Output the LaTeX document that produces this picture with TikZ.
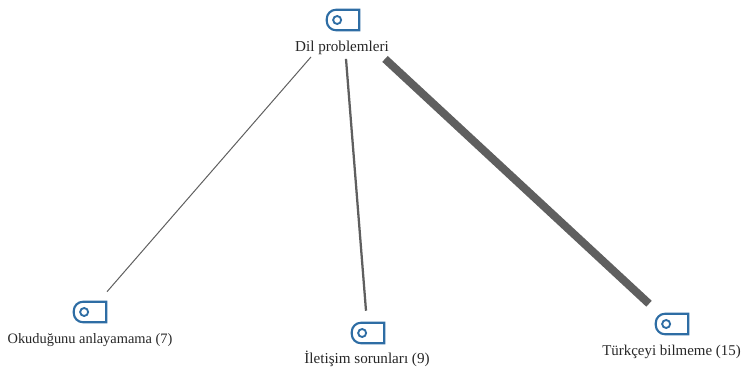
\documentclass[tikz,border=0pt]{standalone}
\usepackage{fontspec}
\setmainfont{Liberation Serif}
\definecolor{iconblue}{HTML}{2E6DA4}
\definecolor{linkgray}{HTML}{5F5F5F}
\tikzset{
  iconbox/.style={minimum width=24pt, minimum height=15pt, inner sep=0pt},
  iconline/.style={draw=iconblue, line width=1.6pt},
  codelabel/.style={font=\fontsize{11.35pt}{13pt}\selectfont, text=black!85, inner sep=0pt, text height=7.5pt, text depth=2.5pt},
  link/.style={draw=linkgray}
}
\newcommand{\tagicon}[2]{%
  \node[iconbox] (#1) at (#2) {};
  \draw[iconline] (#1.north east) -- (#1.south east) [rounded corners=7pt] -- (#1.south west) -- (#1.north west) [sharp corners] -- cycle;
  \draw[iconline, line width=1.4pt] ([xshift=-4.4pt]#1.center) circle (3pt);
}
\begin{document}
\begin{tikzpicture}[x=0.75pt, y=-0.75pt]
  \useasboundingbox (0,0) rectangle (741,367);
  % icons
  \tagicon{dilicon}{343,20}
  \tagicon{okuicon}{90,312}
  \tagicon{ileicon}{368,333}
  \tagicon{turicon}{672,324}
  % labels
  \node[codelabel] (dil) at (342,48.5) {Dil problemleri};
  \node[codelabel, font=\fontsize{10.8pt}{13pt}\selectfont] (oku) at (90,340.5) {Okuduğunu anlayamama (7)};
  \node[codelabel] (ile) at (367,360.5) {İletişim sorunları (9)};
  \node[codelabel, font=\fontsize{11.2pt}{13pt}\selectfont] (tur) at (671.5,352.5) {Türkçeyi bilmeme (15)};
  % links
  \draw[link, line width=0.75pt] ([shift={(-31,1.5)}]dil.south) -- ([shift={(17,-10)}]okuicon.north);
  \draw[link, line width=1.7pt] ([shift={(4,3.5)}]dil.south) -- ([shift={(-2,-12)}]ileicon.north);
  \draw[link, line width=6pt] ([shift={(43,3.5)}]dil.south) -- ([shift={(-23,-10)}]turicon.north);
\end{tikzpicture}
\end{document}
